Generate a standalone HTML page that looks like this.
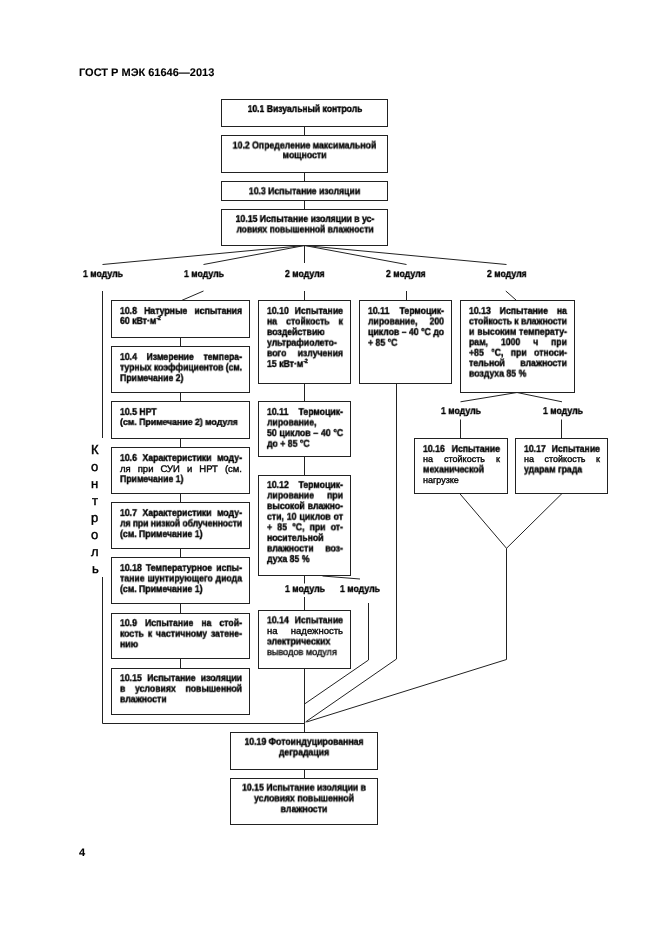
<!DOCTYPE html>
<html><head><meta charset="utf-8"><style>
html,body{margin:0;padding:0;background:#fff;}
body{width:661px;height:935px;position:relative;overflow:hidden;font-family:"Liberation Sans",sans-serif;font-weight:bold;color:#000;}
.b{position:absolute;box-sizing:border-box;border:1px solid #222;}
.t{position:absolute;white-space:nowrap;line-height:1;text-rendering:geometricPrecision;transform-origin:0 0;will-change:transform;-webkit-text-stroke:0.4px #000;}
.j{text-align:justify;text-align-last:justify;}
.c{text-align:center;}
sup{font-size:6px;vertical-align:4px;line-height:0;}
svg{position:absolute;left:0;top:0;}
polyline{fill:none;stroke:#222;stroke-width:1;}
</style></head><body>
<svg width="661" height="935" viewBox="0 0 661 935">
<polyline points="304.5,126 304.5,135"/>
<polyline points="304.5,172 304.5,181"/>
<polyline points="304.5,200 304.5,209"/>
<polyline points="304.5,245.5 102.5,264.5"/>
<polyline points="304.5,245.5 203.5,264.5"/>
<polyline points="304.5,245.5 304.5,263"/>
<polyline points="304.5,245.5 406.5,264.5"/>
<polyline points="304.5,245.5 506.5,264.5"/>
<polyline points="180.5,337 180.5,346"/>
<polyline points="180.5,392 180.5,401"/>
<polyline points="180.5,438 180.5,447"/>
<polyline points="180.5,493 180.5,502"/>
<polyline points="180.5,548 180.5,557"/>
<polyline points="180.5,603 180.5,613"/>
<polyline points="180.5,658 180.5,668"/>
<polyline points="102.5,291 102.5,438"/>
<polyline points="102.5,577 102.5,723.5 304.5,723.5"/>
<polyline points="203.5,291 181.5,300.5"/>
<polyline points="304.5,291 304.5,300"/>
<polyline points="304.5,383 304.5,401"/>
<polyline points="304.5,456 304.5,475"/>
<polyline points="304.5,575 304.5,583.5"/>
<polyline points="304.5,597 304.5,610"/>
<polyline points="304.5,668 304.5,732"/>
<polyline points="322.5,576 360,579"/>
<polyline points="368.5,603 368.5,660 304.5,704"/>
<polyline points="406.5,291 406.5,300"/>
<polyline points="396.5,383 396.5,659 305.5,722"/>
<polyline points="505.8,291 516,300"/>
<polyline points="460.5,401.8 517,392.5 562,401.8"/>
<polyline points="460.5,419.5 460.5,438"/>
<polyline points="561.5,419.5 561.5,438"/>
<polyline points="459.7,493.5 506.5,548.3 562,493.5"/>
<polyline points="506.5,548.3 506.5,659.5 306.5,722"/>
<polyline points="304.5,769 304.5,778"/>
</svg>
<div class="t" style="left:78.5px;top:68px;font-size:11px;-webkit-text-stroke:0.1px #000">ГОСТ Р МЭК 61646—2013</div>
<div class="t" style="left:78.5px;top:848px;font-size:11px;-webkit-text-stroke:0.1px #000">4</div>
<div class="b" style="left:221px;top:99px;width:167px;height:28px"></div>
<div class="t c" style="left:223.00px;top:105px;width:191.14px;font-size:10.0px;transform:translateY(0.00px) scaleX(0.858);">10.1 Визуальный контроль</div>
<div class="b" style="left:221px;top:135px;width:167px;height:38px"></div>
<div class="t c" style="left:222.00px;top:141px;width:189.66px;font-size:10.0px;transform:translateY(0.50px) scaleX(0.87);">10.2 Определение максимальной</div>
<div class="t c" style="left:222.00px;top:151px;width:189.66px;font-size:10.0px;transform:translateY(0.20px) scaleX(0.87);">мощности</div>
<div class="b" style="left:221px;top:181px;width:167px;height:20px"></div>
<div class="t c" style="left:222.00px;top:187px;width:189.66px;font-size:10.0px;transform:translateY(0.30px) scaleX(0.87);">10.3 Испытание изоляции</div>
<div class="b" style="left:221px;top:209px;width:167px;height:37px"></div>
<div class="t c" style="left:223.00px;top:214px;width:188.51px;font-size:10.0px;transform:translateY(0.90px) scaleX(0.87);">10.15 Испытание изоляции в ус-</div>
<div class="t c" style="left:223.00px;top:225px;width:191.59px;font-size:10.0px;transform:translateY(0.50px) scaleX(0.856);">ловиях повышенной влажности</div>
<div class="t" style="left:82.50px;top:270px;width:45.98px;font-size:10.0px;transform:translateY(0.00px) scaleX(0.87)">1 модуль</div>
<div class="t" style="left:183.70px;top:270px;width:45.98px;font-size:10.0px;transform:translateY(0.00px) scaleX(0.87)">1 модуль</div>
<div class="t" style="left:284.63px;top:270px;width:45.67px;font-size:10.0px;transform:translateY(0.00px) scaleX(0.87)">2 модуля</div>
<div class="t" style="left:386.13px;top:270px;width:45.67px;font-size:10.0px;transform:translateY(0.00px) scaleX(0.87)">2 модуля</div>
<div class="t" style="left:486.63px;top:270px;width:45.67px;font-size:10.0px;transform:translateY(0.00px) scaleX(0.87)">2 модуля</div>
<div class="b" style="left:111px;top:300px;width:139px;height:38px"></div>
<div class="t j" style="left:119.50px;top:306px;width:140.23px;font-size:10.0px;transform:translateY(0.90px) scaleX(0.87);">10.8 Натурные испытания</div>
<div class="t" style="left:119.50px;top:316px;width:140.23px;font-size:10.0px;transform:translateY(0.90px) scaleX(0.87);">60 кВт·м<sup>-2</sup></div>
<div class="b" style="left:111px;top:346px;width:139px;height:47px"></div>
<div class="t j" style="left:119.50px;top:352px;width:140.23px;font-size:10.0px;transform:translateY(0.90px) scaleX(0.87);">10.4 Измерение темпера-</div>
<div class="t" style="left:119.50px;top:363px;width:140.23px;font-size:10.0px;transform:translateY(0.50px) scaleX(0.87);letter-spacing:-0.086px;">турных коэффициентов (см.</div>
<div class="t" style="left:119.50px;top:374px;width:140.23px;font-size:10.0px;transform:translateY(0.10px) scaleX(0.87);">Примечание 2)</div>
<div class="b" style="left:111px;top:401px;width:139px;height:38px"></div>
<div class="t" style="left:119.50px;top:407px;width:140.23px;font-size:10.0px;transform:translateY(0.90px) scaleX(0.87);">10.5 НРТ</div>
<div class="t" style="left:119.50px;top:417px;width:125.77px;font-size:9px;transform:translateY(0.90px) scaleX(0.97);">(см. Примечание 2) модуля</div>
<div class="b" style="left:111px;top:447px;width:139px;height:47px"></div>
<div class="t j" style="left:119.50px;top:453px;width:140.23px;font-size:10.0px;transform:translateY(0.90px) scaleX(0.87);">10.6 Характеристики моду-</div>
<div class="t j" style="left:119.50px;top:464px;width:122.00px;font-size:9.5px;transform:translateY(0.50px) scaleX(1.0);font-weight:normal;-webkit-text-stroke:0.4px #111;">ля при СУИ и НРТ (см.</div>
<div class="t" style="left:119.50px;top:475px;width:140.23px;font-size:10.0px;transform:translateY(0.10px) scaleX(0.87);">Примечание 1)</div>
<div class="b" style="left:111px;top:502px;width:139px;height:47px"></div>
<div class="t j" style="left:119.50px;top:508px;width:140.23px;font-size:10.0px;transform:translateY(0.90px) scaleX(0.87);">10.7 Характеристики моду-</div>
<div class="t" style="left:119.50px;top:519px;width:140.23px;font-size:10.0px;transform:translateY(0.50px) scaleX(0.87);letter-spacing:-0.105px;">ля при низкой облученности</div>
<div class="t" style="left:119.50px;top:530px;width:140.23px;font-size:10.0px;transform:translateY(0.10px) scaleX(0.87);">(см. Примечание 1)</div>
<div class="b" style="left:111px;top:557px;width:139px;height:47px"></div>
<div class="t j" style="left:119.50px;top:563px;width:140.23px;font-size:10.0px;transform:translateY(0.90px) scaleX(0.87);">10.18 Температурное испы-</div>
<div class="t j" style="left:119.50px;top:574px;width:140.23px;font-size:10.0px;transform:translateY(0.50px) scaleX(0.87);">тание шунтирующего диода</div>
<div class="t" style="left:119.50px;top:585px;width:140.23px;font-size:10.0px;transform:translateY(0.10px) scaleX(0.87);">(см. Примечание 1)</div>
<div class="b" style="left:111px;top:613px;width:139px;height:46px"></div>
<div class="t j" style="left:119.50px;top:619px;width:140.23px;font-size:10.0px;transform:translateY(0.10px) scaleX(0.87);">10.9 Испытание на стой-</div>
<div class="t j" style="left:119.50px;top:629px;width:140.23px;font-size:10.0px;transform:translateY(0.70px) scaleX(0.87);">кость к частичному затене-</div>
<div class="t" style="left:119.50px;top:640px;width:140.23px;font-size:10.0px;transform:translateY(0.30px) scaleX(0.87);">нию</div>
<div class="b" style="left:111px;top:668px;width:139px;height:47px"></div>
<div class="t j" style="left:119.50px;top:674px;width:140.23px;font-size:10.0px;transform:translateY(0.10px) scaleX(0.87);">10.15 Испытание изоляции</div>
<div class="t j" style="left:119.50px;top:684px;width:140.23px;font-size:10.0px;transform:translateY(0.70px) scaleX(0.87);">в условиях повышенной</div>
<div class="t" style="left:119.50px;top:695px;width:140.23px;font-size:10.0px;transform:translateY(0.30px) scaleX(0.87);">влажности</div>
<div class="t" style="left:91.11px;top:443px;font-size:13px;font-weight:normal;-webkit-text-stroke:0.45px #000">К</div>
<div class="t" style="left:91.28px;top:460px;font-size:13px;font-weight:normal;-webkit-text-stroke:0.45px #000">о</div>
<div class="t" style="left:91.31px;top:477px;font-size:13px;font-weight:normal;-webkit-text-stroke:0.45px #000">н</div>
<div class="t" style="left:91.92px;top:494px;font-size:13px;font-weight:normal;-webkit-text-stroke:0.45px #000">т</div>
<div class="t" style="left:91.28px;top:511px;font-size:13px;font-weight:normal;-webkit-text-stroke:0.45px #000">р</div>
<div class="t" style="left:91.28px;top:528px;font-size:13px;font-weight:normal;-webkit-text-stroke:0.45px #000">о</div>
<div class="t" style="left:91.11px;top:545px;font-size:13px;font-weight:normal;-webkit-text-stroke:0.45px #000">л</div>
<div class="t" style="left:91.51px;top:562px;font-size:13px;font-weight:normal;-webkit-text-stroke:0.45px #000">ь</div>
<div class="b" style="left:258px;top:300px;width:93px;height:84px"></div>
<div class="t j" style="left:266.50px;top:306px;width:87.36px;font-size:10.0px;transform:translateY(0.90px) scaleX(0.87);">10.10 Испытание</div>
<div class="t j" style="left:266.50px;top:317px;width:87.36px;font-size:10.0px;transform:translateY(0.50px) scaleX(0.87);">на стойкость к</div>
<div class="t" style="left:266.50px;top:328px;width:87.36px;font-size:10.0px;transform:translateY(0.10px) scaleX(0.87);">воздействию</div>
<div class="t" style="left:266.50px;top:338px;width:87.36px;font-size:10.0px;transform:translateY(0.70px) scaleX(0.87);">ультрафиолето-</div>
<div class="t j" style="left:266.50px;top:349px;width:87.36px;font-size:10.0px;transform:translateY(0.30px) scaleX(0.87);">вого излучения</div>
<div class="t" style="left:266.50px;top:359px;width:87.36px;font-size:10.0px;transform:translateY(0.90px) scaleX(0.87);">15 кВт·м<sup>-2</sup></div>
<div class="b" style="left:258px;top:401px;width:93px;height:56px"></div>
<div class="t j" style="left:266.50px;top:407px;width:87.36px;font-size:10.0px;transform:translateY(0.90px) scaleX(0.87);">10.11 Термоцик-</div>
<div class="t" style="left:266.50px;top:418px;width:87.36px;font-size:10.0px;transform:translateY(0.50px) scaleX(0.87);">лирование,</div>
<div class="t j" style="left:266.50px;top:429px;width:87.36px;font-size:10.0px;transform:translateY(0.10px) scaleX(0.87);">50 циклов – 40 °С</div>
<div class="t" style="left:266.50px;top:439px;width:87.36px;font-size:10.0px;transform:translateY(0.70px) scaleX(0.87);">до + 85 °С</div>
<div class="b" style="left:258px;top:475px;width:93px;height:101px"></div>
<div class="t j" style="left:266.50px;top:480px;width:87.36px;font-size:10.0px;transform:translateY(0.90px) scaleX(0.87);">10.12 Термоцик-</div>
<div class="t j" style="left:266.50px;top:491px;width:87.36px;font-size:10.0px;transform:translateY(0.50px) scaleX(0.87);">лирование при</div>
<div class="t j" style="left:266.50px;top:502px;width:87.36px;font-size:10.0px;transform:translateY(0.10px) scaleX(0.87);">высокой влажно-</div>
<div class="t j" style="left:266.50px;top:512px;width:87.36px;font-size:10.0px;transform:translateY(0.70px) scaleX(0.87);">сти, 10 циклов от</div>
<div class="t j" style="left:266.50px;top:523px;width:87.36px;font-size:10.0px;transform:translateY(0.30px) scaleX(0.87);">+ 85 °С, при от-</div>
<div class="t" style="left:266.50px;top:533px;width:87.36px;font-size:10.0px;transform:translateY(0.90px) scaleX(0.87);">носительной</div>
<div class="t j" style="left:266.50px;top:544px;width:87.36px;font-size:10.0px;transform:translateY(0.50px) scaleX(0.87);">влажности воз-</div>
<div class="t" style="left:266.50px;top:555px;width:87.36px;font-size:10.0px;transform:translateY(0.10px) scaleX(0.87);">духа 85 %</div>
<div class="b" style="left:258px;top:610px;width:93px;height:59px"></div>
<div class="t j" style="left:266.50px;top:616px;width:87.36px;font-size:10.0px;transform:translateY(0.30px) scaleX(0.87);">10.14 Испытание</div>
<div class="t j" style="left:266.50px;top:626px;width:76.00px;font-size:9.5px;transform:translateY(0.90px) scaleX(1.0);font-weight:normal;-webkit-text-stroke:0.4px #111;">на надежность</div>
<div class="t" style="left:266.50px;top:637px;width:87.36px;font-size:10.0px;transform:translateY(0.50px) scaleX(0.87);">электрических</div>
<div class="t" style="left:266.50px;top:648px;width:79.17px;font-size:9.5px;transform:translateY(0.10px) scaleX(0.96);font-weight:normal;-webkit-text-stroke:0.4px #111;">выводов модуля</div>
<div class="t" style="left:284.70px;top:585px;width:45.98px;font-size:10.0px;transform:translateY(0.00px) scaleX(0.87)">1 модуль</div>
<div class="t" style="left:340.20px;top:585px;width:45.98px;font-size:10.0px;transform:translateY(0.00px) scaleX(0.87)">1 модуль</div>
<div class="b" style="left:359px;top:300px;width:93px;height:84px"></div>
<div class="t j" style="left:367.50px;top:306px;width:87.36px;font-size:10.0px;transform:translateY(0.90px) scaleX(0.87);">10.11 Термоцик-</div>
<div class="t j" style="left:367.50px;top:317px;width:87.36px;font-size:10.0px;transform:translateY(0.50px) scaleX(0.87);">лирование, 200</div>
<div class="t" style="left:367.50px;top:328px;width:87.36px;font-size:10.0px;transform:translateY(0.10px) scaleX(0.87);letter-spacing:-0.001px;">циклов – 40 °С до</div>
<div class="t" style="left:367.50px;top:338px;width:87.36px;font-size:10.0px;transform:translateY(0.70px) scaleX(0.87);">+ 85 °С</div>
<div class="b" style="left:460px;top:300px;width:115px;height:93px"></div>
<div class="t j" style="left:468.50px;top:306px;width:112.64px;font-size:10.0px;transform:translateY(0.90px) scaleX(0.87);">10.13 Испытание на</div>
<div class="t" style="left:468.50px;top:317px;width:112.64px;font-size:10.0px;transform:translateY(0.35px) scaleX(0.87);letter-spacing:-0.076px;">стойкость к влажности</div>
<div class="t j" style="left:468.50px;top:327px;width:112.64px;font-size:10.0px;transform:translateY(0.80px) scaleX(0.87);">и высоким температу-</div>
<div class="t j" style="left:468.50px;top:338px;width:112.64px;font-size:10.0px;transform:translateY(0.25px) scaleX(0.87);">рам, 1000 ч при</div>
<div class="t j" style="left:468.50px;top:348px;width:112.64px;font-size:10.0px;transform:translateY(0.70px) scaleX(0.87);">+85 °С, при относи-</div>
<div class="t j" style="left:468.50px;top:359px;width:112.64px;font-size:10.0px;transform:translateY(0.15px) scaleX(0.87);">тельной влажности</div>
<div class="t" style="left:468.50px;top:369px;width:112.64px;font-size:10.0px;transform:translateY(0.60px) scaleX(0.87);">воздуха 85 %</div>
<div class="t" style="left:441.00px;top:407px;width:45.98px;font-size:10.0px;transform:translateY(0.00px) scaleX(0.87)">1 модуль</div>
<div class="t" style="left:542.50px;top:407px;width:45.98px;font-size:10.0px;transform:translateY(0.00px) scaleX(0.87)">1 модуль</div>
<div class="b" style="left:414px;top:438px;width:94px;height:56px"></div>
<div class="t j" style="left:422.50px;top:444px;width:88.51px;font-size:10.0px;transform:translateY(0.90px) scaleX(0.87);">10.16 Испытание</div>
<div class="t j" style="left:422.50px;top:455px;width:77.00px;font-size:9px;transform:translateY(0.20px) scaleX(1.0);font-weight:normal;-webkit-text-stroke:0.4px #111;">на стойкость к</div>
<div class="t" style="left:422.50px;top:465px;width:88.51px;font-size:10.0px;transform:translateY(0.50px) scaleX(0.87);">механической</div>
<div class="t" style="left:422.50px;top:475px;width:77.00px;font-size:9px;transform:translateY(0.80px) scaleX(1.0);font-weight:normal;-webkit-text-stroke:0.4px #111;">нагрузке</div>
<div class="b" style="left:515px;top:438px;width:93px;height:56px"></div>
<div class="t j" style="left:523.50px;top:444px;width:87.36px;font-size:10.0px;transform:translateY(0.90px) scaleX(0.87);">10.17 Испытание</div>
<div class="t j" style="left:523.50px;top:455px;width:76.00px;font-size:9px;transform:translateY(0.20px) scaleX(1.0);font-weight:normal;-webkit-text-stroke:0.4px #111;">на стойкость к</div>
<div class="t" style="left:523.50px;top:465px;width:87.36px;font-size:10.0px;transform:translateY(0.50px) scaleX(0.87);">ударам града</div>
<div class="b" style="left:230px;top:732px;width:148px;height:38px"></div>
<div class="t c" style="left:231.00px;top:737px;width:167.82px;font-size:10.0px;transform:translateY(0.80px) scaleX(0.87);">10.19 Фотоиндуцированная</div>
<div class="t c" style="left:231.00px;top:748px;width:167.82px;font-size:10.0px;transform:translateY(0.40px) scaleX(0.87);">деградация</div>
<div class="b" style="left:230px;top:778px;width:148px;height:47px"></div>
<div class="t c" style="left:231.00px;top:783px;width:167.82px;font-size:10.0px;transform:translateY(0.60px) scaleX(0.87);">10.15 Испытание изоляции в</div>
<div class="t c" style="left:231.00px;top:794px;width:167.82px;font-size:10.0px;transform:translateY(0.40px) scaleX(0.87);">условиях повышенной</div>
<div class="t c" style="left:231.00px;top:805px;width:167.82px;font-size:10.0px;transform:translateY(0.20px) scaleX(0.87);">влажности</div>
</body></html>
